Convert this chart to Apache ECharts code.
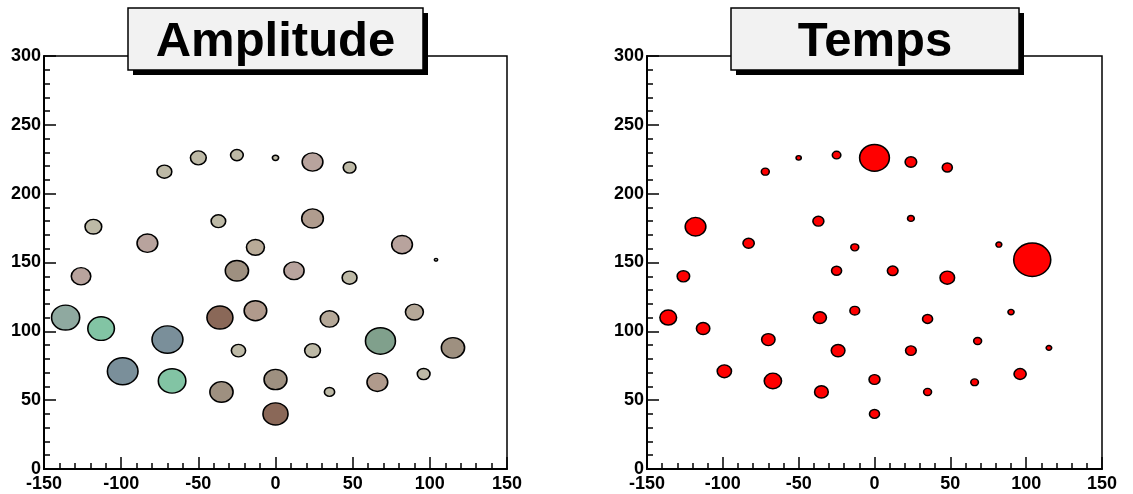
<!DOCTYPE html>
<html>
<head>
<meta charset="utf-8">
<script src="https://cdn.jsdelivr.net/npm/echarts@6/dist/echarts.min.js"></script>
<style>
html,body{margin:0;padding:0;background:#fff;}
#c{width:1133px;height:494px;}
</style>
</head>
<body>
<div id="c"></div>
<script>
// Detector positions (shared by both panels)
const xs = [-72,-50,-25,0,24,48,-118,-37,24,-83,-13,82,-126,-25,12,48,104,-136,-113,-70,-99,-67,-36,-13,-24,-35,0,0,35,24,35,68,90,115,96,66];
const ys = [216,226,228,226,223,219,176,180,182,164,161,163,140,144,144,139,152,110,102,94,71,64,110,115,86,56,65,40,109,86,56,93,114,88,69,63];
// Circle radii (data units)
const ampRadius = [5.3,5.6,4.6,2.5,7.2,4.6,5.9,5.2,7.5,7.2,6.3,7.2,6.8,8.0,7.0,5.3,1.5,9.6,9.1,10.5,10.4,9.4,8.9,7.8,5.1,8.0,7.9,8.6,6.5,5.6,3.8,10.2,6.3,8.0,4.6,7.2];
const tempRadius = [3.1,2.2,3.3,10.3,4.3,3.8,7.3,4.1,2.7,4.2,3.1,2.4,4.6,3.8,4.0,5.3,12.7,6.0,4.9,4.9,5.2,6.2,4.8,3.7,5.0,5.0,4.1,3.8,3.8,4.0,3.1,3.1,2.5,2.3,4.5,3.0];
// Amplitude colours per detector
const ampColors = ['#bdb9a6','#bdb9a6','#bdb9a6','#bdb9a6','#b8a39d','#bdb9a6','#bdb9a6','#bdb9a6','#b09c8e','#b8a39d','#b8ab98','#b8a39d','#b8a39d','#9e9080','#b8a39d','#bdb9a6','#e8e6dc','#8fa9a0','#82c4a4','#7a8f9a','#7a8f9a','#82c4a4','#8a6858','#b09a8c','#bdb9a6','#9e9080','#9e9080','#8a6858','#b5a898','#bdb9a6','#bdb9a6','#80a08c','#b5a898','#9e9080','#bdb9a6','#b09a8c'];
const titles = ['Amplitude','Temps'];
const xTicks = [-150,150,50];
const yTicks = [0,300,50];

const FONT = '"Liberation Sans", Arial, Helvetica, sans-serif';
const grids = [
  {left:44, top:56, width:463, height:413},
  {left:647, top:56, width:455, height:413}
];
function makeData(radii){ return xs.map((x,i)=>[x, ys[i], radii[i]]); }
function sizeFn(g){
  const sx = g.width/(xTicks[1]-xTicks[0]);
  const sy = g.height/(yTicks[1]-yTicks[0]);
  return function(v){ return [Math.max(2*v[2]*sx-1.5,2), Math.max(2*v[2]*sy-1.5,2)]; };
}
function xAxis(i){
  return {type:'value', gridIndex:i, min:xTicks[0], max:xTicks[1], interval:xTicks[2],
    axisLine:{show:true, onZero:false, lineStyle:{color:'#000', width:2}},
    axisTick:{show:true, inside:true, length:12, lineStyle:{color:'#000', width:1.5}},
    minorTick:{show:true, splitNumber:5, length:6, lineStyle:{color:'#000', width:1.5}},
    splitLine:{show:false}, minorSplitLine:{show:false},
    axisLabel:{color:'#000', fontFamily:FONT, fontWeight:'bold', fontSize:18, margin:6, showMinLabel:true, showMaxLabel:true, hideOverlap:false}
  };
}
function yAxis(i){
  return {type:'value', gridIndex:i, min:yTicks[0], max:yTicks[1], interval:yTicks[2],
    axisLine:{show:true, onZero:false, lineStyle:{color:'#000', width:2}},
    axisTick:{show:true, inside:true, length:12, lineStyle:{color:'#000', width:1.5}},
    minorTick:{show:true, splitNumber:5, length:6, lineStyle:{color:'#000', width:1.5}},
    splitLine:{show:false}, minorSplitLine:{show:false},
    axisLabel:{color:'#000', fontFamily:FONT, fontWeight:'bold', fontSize:18, margin:3, showMinLabel:true, showMaxLabel:true, hideOverlap:false}
  };
}
const boxes = [
  {x:128, y:8, w:295, h:62},
  {x:731, y:8, w:288, h:62}
];
const graphic = [];
boxes.forEach((b,i)=>{
  graphic.push({type:'rect', z:100, shape:{x:b.x+5, y:b.y+5, width:b.w, height:b.h}, style:{fill:'#000'}});
  graphic.push({type:'rect', z:101, shape:{x:b.x, y:b.y, width:b.w, height:b.h}, style:{fill:'#f2f2f2', stroke:'#000', lineWidth:1.5}});
  graphic.push({type:'text', z:102, x:b.x+b.w/2, y:b.y+b.h/2+3, style:{text:titles[i], fill:'#000', font:'bold 49px '+FONT, textAlign:'center', textVerticalAlign:'middle'}});
});

const chart = echarts.init(document.getElementById('c'), null, {renderer:'canvas'});
chart.setOption({
  animation:false,
  backgroundColor:'#fff',
  grid: grids.map(g=>Object.assign({show:true, borderColor:'#000', borderWidth:1.5, backgroundColor:'transparent', containLabel:false}, g)),
  xAxis:[xAxis(0), xAxis(1)],
  yAxis:[yAxis(0), yAxis(1)],
  series:[
    {type:'scatter', xAxisIndex:0, yAxisIndex:0, data:makeData(ampRadius), symbol:'circle', symbolSize:sizeFn(grids[0]),
     itemStyle:{color:(p)=>ampColors[p.dataIndex], borderColor:'#000', borderWidth:1.5, opacity:1}},
    {type:'scatter', xAxisIndex:1, yAxisIndex:1, data:makeData(tempRadius), symbol:'circle', symbolSize:sizeFn(grids[1]),
     itemStyle:{color:'#ff0000', borderColor:'#000', borderWidth:1.5, opacity:1}}
  ],
  graphic: graphic
});
</script>
</body>
</html>
